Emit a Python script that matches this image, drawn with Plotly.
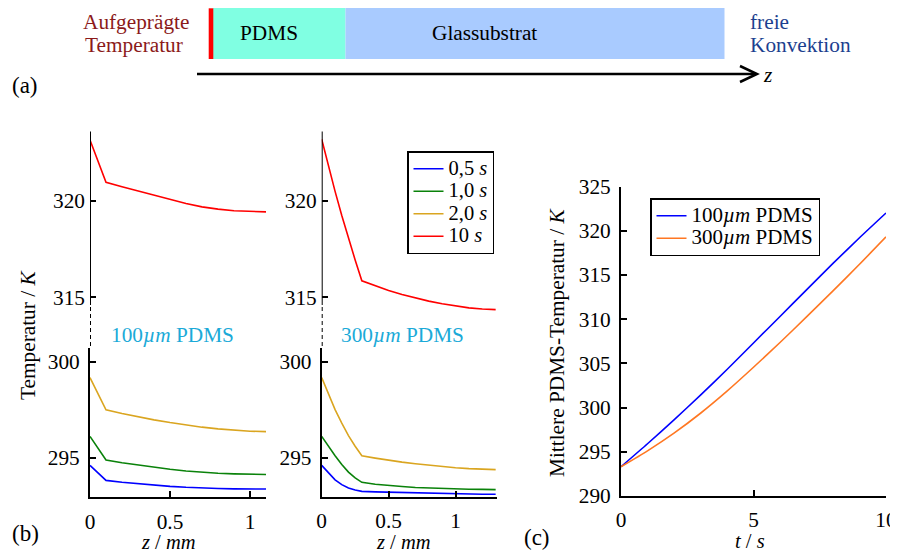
import plotly.graph_objects as go

# the page body has an 8px margin; figure is sized so the content lands on the 898x552 window
OFF = 8
W, H = 898 - OFF, 552 - OFF
FONT = "Liberation Serif, Times New Roman, DejaVu Serif, serif"
FS = 21.3

# ---------------- data ----------------
# (b) left: 100 um PDMS, z in mm
z_100 = [0, 0.1, 0.2, 0.3, 0.4, 0.5, 0.6, 0.7, 0.8, 0.9, 1.0, 1.1]
temp100_05s = [294.6, 293.82, 293.72, 293.64, 293.57, 293.51, 293.46, 293.42, 293.4, 293.38, 293.37, 293.37]
temp100_1s = [296.11, 294.88, 294.74, 294.62, 294.5, 294.4, 294.31, 294.24, 294.19, 294.16, 294.14, 294.13]
temp100_2s = [299.17, 297.49, 297.3, 297.13, 296.97, 296.83, 296.7, 296.59, 296.5, 296.43, 296.38, 296.36]
temp100_10s = [323.14, 320.95, 320.72, 320.5, 320.28, 320.05, 319.85, 319.68, 319.56, 319.48, 319.44, 319.42]

# (b) right: 300 um PDMS
z_300 = [0, 0.05, 0.1, 0.15, 0.2, 0.25, 0.3, 0.4, 0.5, 0.6, 0.7, 0.8, 0.9, 1.0, 1.1, 1.2, 1.3]
temp300_05s = [294.6, 294.2, 293.85, 293.6, 293.42, 293.32, 293.25, 293.22, 293.2, 293.18, 293.16, 293.14, 293.13, 293.12, 293.11, 293.1, 293.1]
temp300_1s = [296.11, 295.6, 295.1, 294.65, 294.25, 293.95, 293.72, 293.62, 293.55, 293.5, 293.45, 293.42, 293.39, 293.37, 293.36, 293.35, 293.34]
temp300_2s = [299.17, 298.3, 297.5, 296.8, 296.15, 295.6, 295.1, 294.98, 294.87, 294.77, 294.69, 294.61, 294.54, 294.48, 294.43, 294.4, 294.38]
temp300_10s = [323.18, 321.78, 320.48, 319.23, 318.03, 316.93, 315.85, 315.58, 315.35, 315.14, 314.96, 314.8, 314.66, 314.54, 314.45, 314.39, 314.36]

series_names = ["0,5 <i>s</i>", "1,0 <i>s</i>", "2,0 <i>s</i>", "10 <i>s</i>"]
series_colors = ["#0000FF", "#0A820A", "#DAA520", "#FF0000"]

# (c) mean PDMS temperature
t_s = [0, 1, 2, 3, 4, 5, 6, 7, 8, 9, 10]
mean_100 = [293.3, 295.9, 298.6, 301.4, 304.3, 307.3, 310.3, 313.3, 316.3, 319.2, 322.0]
mean_300 = [293.3, 295.1, 297.1, 299.35, 301.85, 304.55, 307.35, 310.25, 313.2, 316.2, 319.3]
c_names = ["100<i>µm</i> PDMS", "300<i>µm</i> PDMS"]
c_colors = ["#0000FF", "#FF7722"]

# ---------------- helpers (window pixel -> paper) ----------------
def px(x):
    return (x - OFF) / W

def py(y):
    return 1 - (y - OFF) / H

def big(name, size):
    # legend spacing follows the legend font size; entry text is drawn larger
    return f'<span style="font-size:{size}px">{name}</span>'

fig = go.Figure()

left_series = [temp100_05s, temp100_1s, temp100_2s, temp100_10s]
right_series = [temp300_05s, temp300_1s, temp300_2s, temp300_10s]

for i, (vals, name, col) in enumerate(zip(left_series, series_names, series_colors)):
    yax = "y2" if i == 3 else "y"
    fig.add_trace(go.Scatter(x=z_100, y=vals, mode="lines", xaxis="x", yaxis=yax,
                             line=dict(color=col, width=1.6), name=name,
                             showlegend=False, hoverinfo="skip"))
for i, (vals, name, col) in enumerate(zip(right_series, series_names, series_colors)):
    yax = "y4" if i == 3 else "y3"
    fig.add_trace(go.Scatter(x=z_300, y=vals, mode="lines", xaxis="x2", yaxis=yax,
                             line=dict(color=col, width=1.6), name=big(name, 20.5),
                             showlegend=True, legend="legend"))
for vals, name, col in zip([mean_100, mean_300], c_names, c_colors):
    fig.add_trace(go.Scatter(x=t_s, y=vals, mode="lines", xaxis="x3", yaxis="y5",
                             line=dict(color=col, width=1.6, shape="spline", smoothing=0.6),
                             name=big(name, 21), showlegend=True, legend="legend2"))

tickfont = dict(family=FONT, size=FS, color="black")
axis_common = dict(linecolor="black", linewidth=2, ticks="inside",
                   ticklen=6, tickwidth=1.5, tickcolor="black", showgrid=False,
                   zeroline=False, tickfont=tickfont, fixedrange=True, automargin=False)

LOW_DOM = [py(497.3), py(348)]
UP_DOM = [py(316), py(131.5)]
LOW_RNG = [292.94, 300.71]
UP_RNG = [314.03, 323.58]

fig.update_layout(
    template="none",
    width=W, height=H, margin=dict(l=0, r=0, t=0, b=0, pad=0, autoexpand=False),
    paper_bgcolor="white", plot_bgcolor="rgba(0,0,0,0)",
    font=dict(family=FONT, size=FS, color="black"),
    xaxis=dict(domain=[px(90), px(266)], range=[0, 1.1], anchor="y", showline=True,
               tickvals=[0, 0.5, 1], ticktext=["0", "0.5", "1"], ticklabelstandoff=4, **axis_common),
    yaxis=dict(domain=LOW_DOM, range=LOW_RNG, anchor="x", showline=True,
               tickvals=[295, 300], ticklabelstandoff=4, **axis_common),
    yaxis2=dict(domain=UP_DOM, range=UP_RNG, anchor="x", showline=False,
                tickvals=[315, 320], ticklabelstandoff=4, **axis_common),
    xaxis2=dict(domain=[px(321.7), px(497)], range=[0, 1.31], anchor="y3", showline=True,
                tickvals=[0, 0.5, 1], ticktext=["0", "0.5", "1"], ticklabelstandoff=3, **axis_common),
    yaxis3=dict(domain=LOW_DOM, range=LOW_RNG, anchor="x2", showline=True,
                tickvals=[295, 300], ticklabelstandoff=4, **axis_common),
    yaxis4=dict(domain=UP_DOM, range=UP_RNG, anchor="x2", showline=False,
                tickvals=[315, 320], ticklabelstandoff=4, **axis_common),
    xaxis3=dict(domain=[px(621), px(886)], range=[0, 10], anchor="y5", showline=True,
                tickvals=[0, 5, 10], ticklabelstandoff=4, **axis_common),
    yaxis5=dict(domain=[py(495.9), py(186.5)], range=[290, 325], anchor="x3", showline=True,
                tickvals=[290, 295, 300, 305, 310, 315, 320, 325], ticklabelstandoff=4, **axis_common),
    legend=dict(x=px(407), y=py(151), xanchor="left", yanchor="top",
                bgcolor="white", bordercolor="black", borderwidth=1.5,
                font=dict(family=FONT, size=15, color="black"), itemwidth=30,
                tracegroupgap=0),
    legend2=dict(x=px(650), y=py(198), xanchor="left", yanchor="top",
                 bgcolor="white", bordercolor="black", borderwidth=1.5,
                 font=dict(family=FONT, size=15, color="black"), itemwidth=30),
)

shapes = []
# broken y-axes: solid upper part, dashed gap (lower part is the axis line itself)
for xref in ["x", "x2"]:
    shapes.append(dict(type="line", xref=xref, yref="paper", x0=0, x1=0, y0=py(305), y1=py(131.5),
                       line=dict(color="black", width=2)))
    shapes.append(dict(type="line", xref=xref, yref="paper", x0=0, x1=0, y0=py(307), y1=py(348),
                       line=dict(color="black", width=2, dash="4px,3px")))

# schematic (a)
shapes += [
    dict(type="rect", xref="paper", yref="paper", x0=px(213), x1=px(345.5), y0=py(59), y1=py(6.7),
         fillcolor="#80FFE2", line=dict(width=0), layer="below"),
    dict(type="rect", xref="paper", yref="paper", x0=px(345.5), x1=px(724.5), y0=py(59), y1=py(6.7),
         fillcolor="#A9CBFF", line=dict(width=0), layer="below"),
    dict(type="rect", xref="paper", yref="paper", x0=px(208.7), x1=px(213.3), y0=py(59), y1=py(8.3),
         fillcolor="#FF0000", line=dict(width=0)),
    dict(type="line", xref="paper", yref="paper", x0=px(197), x1=px(756), y0=py(74), y1=py(74),
         line=dict(color="black", width=2.5)),
    dict(type="path", xref="paper", yref="paper",
         path=f"M {px(740)},{py(66)} L {px(757)},{py(74)} L {px(740)},{py(82)}",
         line=dict(color="black", width=2.5)),
]
fig.update_layout(shapes=shapes)

def ann(text, x, y, size=FS, color="black", angle=0, xanchor="center"):
    return dict(text=text, x=px(x), y=py(y), xref="paper", yref="paper", showarrow=False,
                xanchor=xanchor, yanchor="middle", textangle=angle,
                font=dict(family=FONT, size=size, color=color))

annotations = [
    ann("Aufgeprägte", 136, 22, color="#8B1A1A"),
    ann("Temperatur", 134, 45, color="#8B1A1A"),
    ann("PDMS", 269, 33),
    ann("Glassubstrat", 485, 33),
    ann("freie", 748, 22, color="#1C3F8F", xanchor="left"),
    ann("Konvektion", 748, 45, color="#1C3F8F", xanchor="left"),
    ann("<i>z</i>", 767, 75),
    ann("(a)", 25, 85, size=23),
    ann("(b)", 25, 533, size=23),
    ann("(c)", 537, 537, size=23),
    ann("100<i>µm</i> PDMS", 172, 335, color="#1BAAD8"),
    ann("300<i>µm</i> PDMS", 402, 335, color="#1BAAD8"),
    ann("Temperatur / <i>K</i>", 28, 335, angle=-90),
    ann("Mittlere PDMS-Temperatur / <i>K</i>", 557, 343, angle=-90),
    ann("<i>z</i> / <i>mm</i>", 168, 541.5, size=20.5),
    ann("<i>z</i> / <i>mm</i>", 403, 542, size=20.5),
    ann("<i>t</i> / <i>s</i>", 750, 540.5, size=20.5),
]
fig.update_layout(annotations=annotations)

fig.write_html("out.html")
